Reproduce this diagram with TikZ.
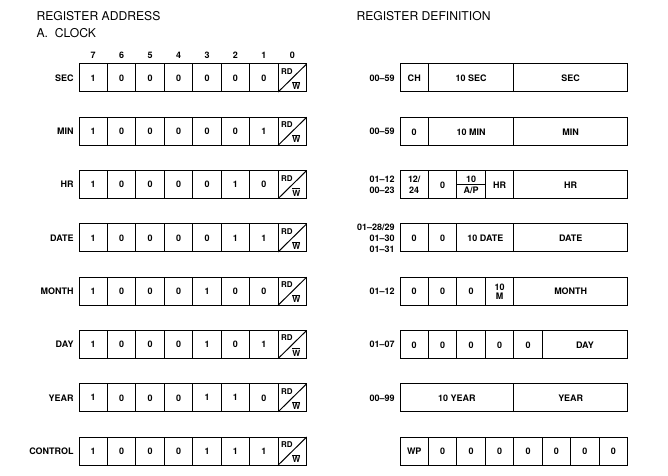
\documentclass[tikz,border=0pt]{standalone}
\usepackage{fontspec}
\setmainfont{TeX Gyre Heros}
\usetikzlibrary{calc}

\begin{document}
\begin{tikzpicture}[x=1bp,y=-1bp,line width=1bp,
  lbl/.style={font=\fontsize{9}{11}\selectfont\bfseries,inner sep=0pt,align=center},
  ttl/.style={font=\fontsize{12.2}{14}\selectfont,anchor=west,inner sep=0pt}]
\useasboundingbox (0,0) rectangle (668,476);
\pgfmathsetmacro{\cellw}{28.45}
\pgfmathsetmacro{\cellh}{28}
\pgfmathsetmacro{\rowd}{53.3}
\pgfmathsetmacro{\xa}{79}
\pgfmathsetmacro{\xb}{400}
\node[ttl] (addr) at (36,16) {REGISTER ADDRESS};
\node[ttl] (clock) at (36,33) {A.\ \ CLOCK};
\node[ttl] (def) at (356,16) {REGISTER DEFINITION};
\foreach \b in {0,...,7}
  \node[lbl] (bit\b) at ({\xa+(7.5-\b)*\cellw},55) {\b};
% address side
\foreach \name/\bits [count=\row from 0] in {SEC/{1,0,0,0,0,0,0},MIN/{1,0,0,0,0,0,1},
    HR/{1,0,0,0,0,1,0},DATE/{1,0,0,0,0,1,1},MONTH/{1,0,0,0,1,0,0},DAY/{1,0,0,0,1,0,1},
    YEAR/{1,0,0,0,1,1,0},CONTROL/{1,0,0,0,1,1,1}}{
  \pgfmathsetmacro{\yt}{64+\row*\rowd}
  \node[lbl,anchor=east] (a\row) at (74,{\yt+\cellh/2}) {\name};
  \draw (\xa,\yt) rectangle ++({8*\cellw},\cellh);
  \foreach \c in {1,...,7} \draw ({\xa+\c*\cellw},\yt) -- ++(0,\cellh);
  \foreach \v [count=\c from 0] in \bits
    \node[lbl] (a\row-\c) at ({\xa+(\c+0.5)*\cellw},{\yt+\cellh/2}) {\v};
  \draw ({\xa+7*\cellw},{\yt+\cellh}) -- ++(\cellw,-\cellh);
  \node[lbl,font=\fontsize{8}{9}\selectfont\bfseries,anchor=west] (rd\row) at ({\xa+7*\cellw+2.5},\yt+7.5) {RD};
  \node[lbl,font=\fontsize{8.5}{9}\selectfont\bfseries] (wr\row) at ({\xa+7.64*\cellw},\yt+21.5) {$\overline{\mbox{W}}$};
}
% definition side
\foreach \rng/\segs [count=\row from 0] in {
    {00--59}/{0/1/CH,1/3/10 SEC,4/4/SEC},
    {00--59}/{0/1/0,1/3/10 MIN,4/4/MIN},
    {01--12\\00--23}/{0/1/{12/\\24},1/1/0,2/1/{10\\A/P},3/1/HR,4/4/HR},
    {01--28/29\\01--30\\01--31}/{0/1/0,1/1/0,2/2/10 DATE,4/4/DATE},
    {01--12}/{0/1/0,1/1/0,2/1/0,3/1/{10\\[-2.5pt]M},4/4/MONTH},
    {01--07}/{0/1/0,1/1/0,2/1/0,3/1/0,4/1/0,5/3/DAY},
    {00--99}/{0/4/10 YEAR,4/4/YEAR},
    {}/{0/1/WP,1/1/0,2/1/0,3/1/0,4/1/0,5/1/0,6/1/0,7/1/0}}{
  \pgfmathsetmacro{\yt}{64+\row*\rowd}
  \node[lbl,anchor=east,align=right] (r\row) at (395,{\yt+\cellh/2}) {\rng};
  \foreach \s/\n/\t [count=\k] in \segs{
    \draw ({\xb+\s*\cellw},\yt) rectangle ++({\n*\cellw},\cellh);
    \node[lbl] (d\row-\k) at ({\xb+(\s+\n/2)*\cellw},{\yt+\cellh/2+0.5}) {\t};
  }
}
\draw ({\xb+2*\cellw},{64+2*\rowd+\cellh/2}) -- ++(\cellw,0);
\end{tikzpicture}
\end{document}
